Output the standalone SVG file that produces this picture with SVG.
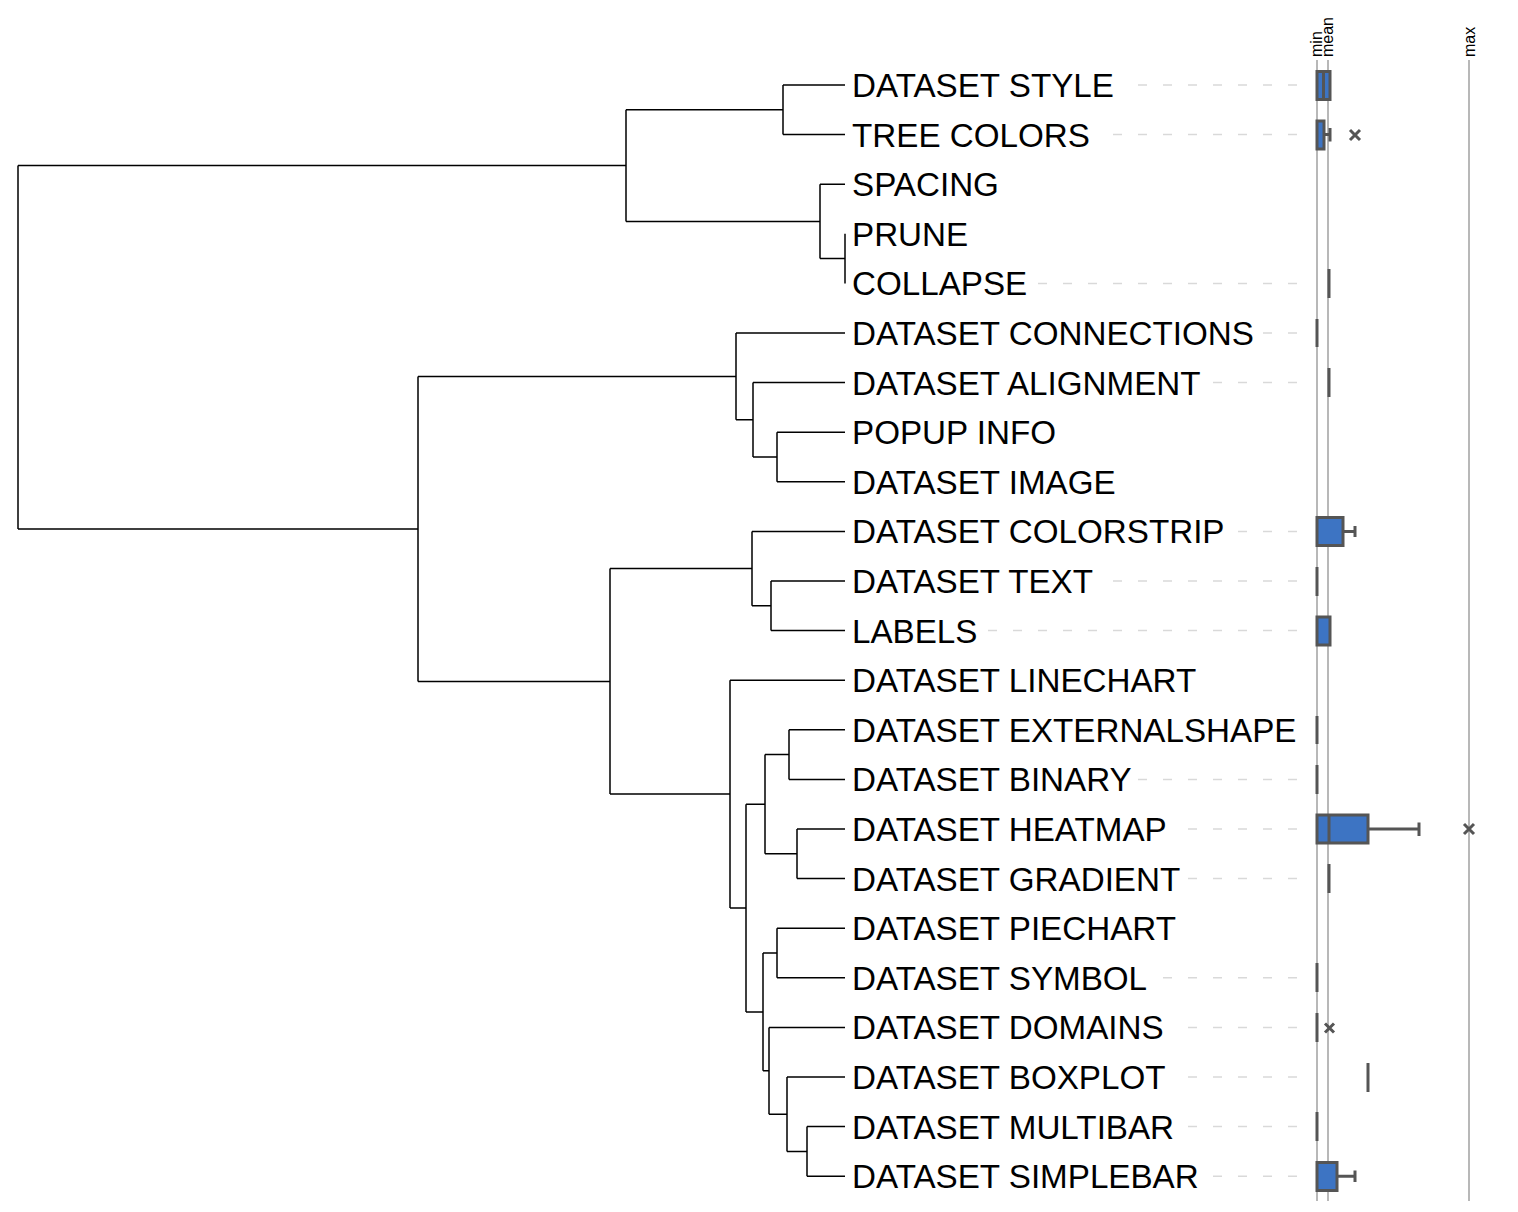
<svg xmlns="http://www.w3.org/2000/svg" width="1518" height="1212" viewBox="0 0 1518 1212">
<style>
.lbl{font-family:"Liberation Sans",Arial,sans-serif;font-size:33.2px;fill:#000}
.ax{font-family:"Liberation Sans",Arial,sans-serif;font-size:16px;fill:#000}
.tree{fill:none;stroke:#000;stroke-width:1.5}
.dash{stroke:#d9d9d9;stroke-width:1.5;stroke-dasharray:9 16;fill:none}
.axl{stroke:#b8b8b8;stroke-width:2;fill:none}
.box{fill:#3d74c3;stroke:#555;stroke-width:3}
.ln{stroke:#555;stroke-width:3;fill:none}
</style>
<rect width="1518" height="1212" fill="#fff"/>
<g id="connectors" class="tree">
<path d="M18,165.6V528.9M18,165.6H626M18,528.9H418"/>
<path d="M626,109.8V221.4M626,109.8H783M626,221.4H820"/>
<path d="M783,85V134.6M783,85H845M783,134.6H845"/>
<path d="M820,184.2V258.6M820,184.2H845M820,258.6H845"/>
<path d="M845,233.8V283.4"/>
<path d="M418,376.4V681.4M418,376.4H736M418,681.4H610"/>
<path d="M736,333V419.8M736,333H845M736,419.8H753"/>
<path d="M753,382.6V457M753,382.6H845M753,457H777"/>
<path d="M777,432.2V481.8M777,432.2H845M777,481.8H845"/>
<path d="M610,568.6V794.1M610,568.6H752M610,794.1H730"/>
<path d="M752,531.4V605.8M752,531.4H845M752,605.8H771"/>
<path d="M771,581V630.6M771,581H845M771,630.6H845"/>
<path d="M730,680.2V908M730,680.2H845M730,908H746"/>
<path d="M746,804.2V1011.9M746,804.2H765M746,1011.9H763"/>
<path d="M765,754.6V853.8M765,754.6H789M765,853.8H797"/>
<path d="M789,729.8V779.4M789,729.8H845M789,779.4H845"/>
<path d="M797,829V878.6M797,829H845M797,878.6H845"/>
<path d="M763,953V1070.8M763,953H777M763,1070.8H769"/>
<path d="M777,928.2V977.8M777,928.2H845M777,977.8H845"/>
<path d="M769,1027.4V1114.2M769,1027.4H845M769,1114.2H787"/>
<path d="M787,1077V1151.4M787,1077H845M787,1151.4H807"/>
<path d="M807,1126.6V1176.2M807,1126.6H845M807,1176.2H845"/>
</g>
<g id="guides" class="dash">
<path d="M1138,85H1297"/>
<path d="M1113,134.6H1297"/>
<path d="M1038,283.4H1297"/>
<path d="M1263,333H1297"/>
<path d="M1213,382.6H1297"/>
<path d="M1238,531.4H1297"/>
<path d="M1113,581H1297"/>
<path d="M988,630.6H1297"/>
<path d="M1138,779.4H1297"/>
<path d="M1188,829H1297"/>
<path d="M1188,878.6H1297"/>
<path d="M1163,977.8H1297"/>
<path d="M1188,1027.4H1297"/>
<path d="M1188,1077H1297"/>
<path d="M1188,1126.6H1297"/>
<path d="M1213,1176.2H1297"/>
</g>
<g id="leaf-dataset-style"><text class="lbl" x="852" y="96.9">DATASET STYLE</text></g>
<g id="leaf-tree-colors"><text class="lbl" x="852" y="146.5">TREE COLORS</text></g>
<g id="leaf-spacing"><text class="lbl" x="852" y="196.1">SPACING</text></g>
<g id="leaf-prune"><text class="lbl" x="852" y="245.7">PRUNE</text></g>
<g id="leaf-collapse"><text class="lbl" x="852" y="295.3">COLLAPSE</text></g>
<g id="leaf-dataset-connections"><text class="lbl" x="852" y="344.9">DATASET CONNECTIONS</text></g>
<g id="leaf-dataset-alignment"><text class="lbl" x="852" y="394.5">DATASET ALIGNMENT</text></g>
<g id="leaf-popup-info"><text class="lbl" x="852" y="444.1">POPUP INFO</text></g>
<g id="leaf-dataset-image"><text class="lbl" x="852" y="493.7">DATASET IMAGE</text></g>
<g id="leaf-dataset-colorstrip"><text class="lbl" x="852" y="543.3">DATASET COLORSTRIP</text></g>
<g id="leaf-dataset-text"><text class="lbl" x="852" y="592.9">DATASET TEXT</text></g>
<g id="leaf-labels"><text class="lbl" x="852" y="642.5">LABELS</text></g>
<g id="leaf-dataset-linechart"><text class="lbl" x="852" y="692.1">DATASET LINECHART</text></g>
<g id="leaf-dataset-externalshape"><text class="lbl" x="852" y="741.7">DATASET EXTERNALSHAPE</text></g>
<g id="leaf-dataset-binary"><text class="lbl" x="852" y="791.3">DATASET BINARY</text></g>
<g id="leaf-dataset-heatmap"><text class="lbl" x="852" y="840.9">DATASET HEATMAP</text></g>
<g id="leaf-dataset-gradient"><text class="lbl" x="852" y="890.5">DATASET GRADIENT</text></g>
<g id="leaf-dataset-piechart"><text class="lbl" x="852" y="940.1">DATASET PIECHART</text></g>
<g id="leaf-dataset-symbol"><text class="lbl" x="852" y="989.7">DATASET SYMBOL</text></g>
<g id="leaf-dataset-domains"><text class="lbl" x="852" y="1039.3">DATASET DOMAINS</text></g>
<g id="leaf-dataset-boxplot"><text class="lbl" x="852" y="1088.9">DATASET BOXPLOT</text></g>
<g id="leaf-dataset-multibar"><text class="lbl" x="852" y="1138.5">DATASET MULTIBAR</text></g>
<g id="leaf-dataset-simplebar"><text class="lbl" x="852" y="1188.1">DATASET SIMPLEBAR</text></g>
<g id="axis">
<path class="axl" d="M1317,60V1201M1328,60V1201M1469,60V1201"/>
<text class="ax" transform="translate(1322,57) rotate(-90)">min</text>
<text class="ax" transform="translate(1333,57) rotate(-90)">mean</text>
<text class="ax" transform="translate(1475,57) rotate(-90)">max</text>
</g>
<g id="boxplots">
<rect class="box" x="1317" y="71.5" width="13" height="28"/>
<path class="ln" d="M1323.5,71.5V99.5"/>
<path class="ln" d="M1324,134.6H1330M1330,128V141.5"/>
<rect class="box" x="1317" y="121" width="7" height="28"/>
<path class="ln" d="M1350,130L1360,140M1360,130L1350,140"/>
<path class="ln" d="M1329,269V298"/>
<path class="ln" d="M1317,319V347"/>
<path class="ln" d="M1329,368V397"/>
<path class="ln" d="M1343,531.4H1355M1355,526V537"/>
<rect class="box" x="1317" y="517.5" width="26" height="28"/>
<path class="ln" d="M1317,567V596"/>
<rect class="box" x="1317" y="617" width="13" height="28"/>
<path class="ln" d="M1317,716V744"/>
<path class="ln" d="M1317,765V794"/>
<path class="ln" d="M1368,829H1419M1419,822.5V836"/>
<rect class="box" x="1317" y="815" width="51" height="28"/>
<path class="ln" d="M1329,815V843"/>
<path class="ln" d="M1464,824L1474,834M1474,824L1464,834"/>
<path class="ln" d="M1329,864V893"/>
<path class="ln" d="M1317,963V992"/>
<path class="ln" d="M1317,1013V1042"/>
<path class="ln" d="M1325,1023.5L1334,1032.5M1334,1023.5L1325,1032.5"/>
<path class="ln" d="M1368,1063V1092"/>
<path class="ln" d="M1317,1112V1141"/>
<path class="ln" d="M1337,1176.2H1355M1355,1170.5V1182"/>
<rect class="box" x="1317" y="1162.5" width="20" height="28"/>
</g>
</svg>
